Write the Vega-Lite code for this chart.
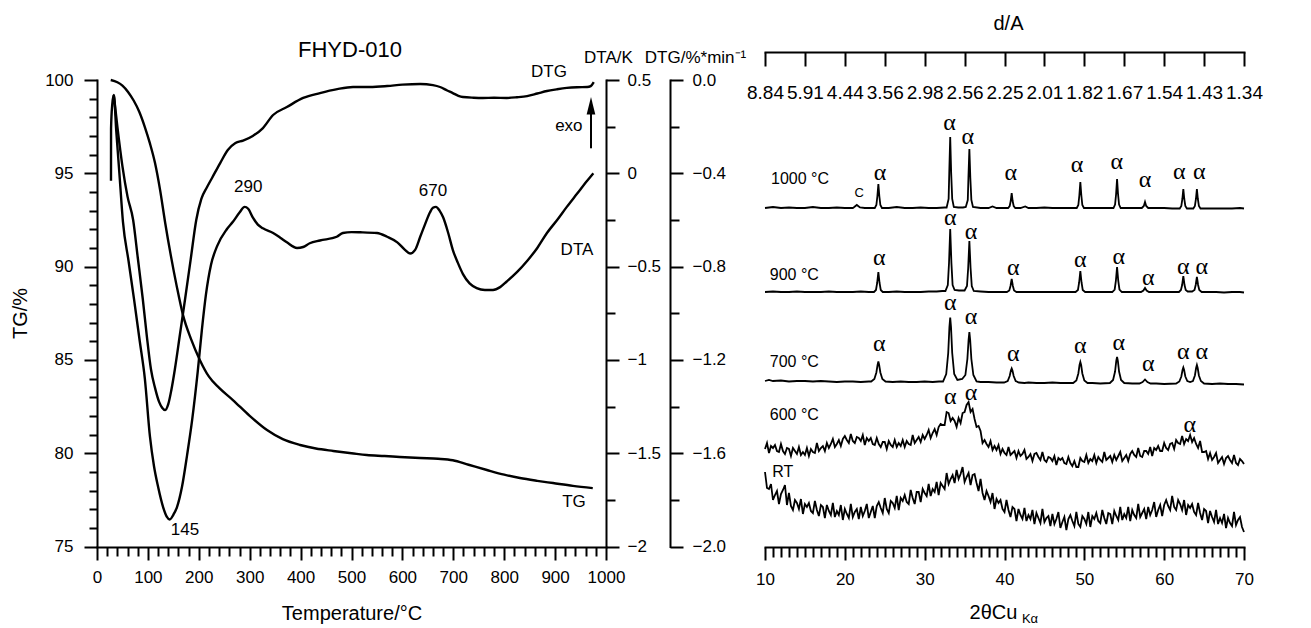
{
"$schema": "https://vega.github.io/schema/vega-lite/v6.json",
"autosize": {"type": "none"},
"width": 1147,
"height": 495,
"padding": {"left": 97, "top": 52, "right": 67, "bottom": 81},
"background": "white",
"config": {
  "view": {"stroke": null},
  "font": "Liberation Sans",
  "text": {"font": "Liberation Sans", "color": "black"},
  "axis": {"domainColor": "black", "tickColor": "black", "labelColor": "black", "titleColor": "black", "domainWidth": 2, "tickWidth": 2, "labelFont": "Liberation Sans", "titleFont": "Liberation Sans", "titleFontWeight": "normal", "grid": false, "labelFlush": false, "labelOverlap": false, "labelBound": false, "domainCap": "square"}
},
"datasets": {
  "tg": [{"T":27,"v":100},{"T":40,"v":99.88},{"T":50,"v":99.7},{"T":61,"v":99.36},{"T":72,"v":98.9},{"T":83,"v":98.3},{"T":94,"v":97.48},{"T":104,"v":96.6},{"T":114,"v":95.55},{"T":124,"v":94.1},{"T":134,"v":92.34},{"T":145,"v":90.6},{"T":157,"v":88.9},{"T":169,"v":87.4},{"T":185,"v":86.1},{"T":202,"v":85.0},{"T":220,"v":84.1},{"T":240,"v":83.5},{"T":267,"v":82.85},{"T":300,"v":82.0},{"T":334,"v":81.24},{"T":365,"v":80.75},{"T":399,"v":80.44},{"T":430,"v":80.25},{"T":464,"v":80.12},{"T":500,"v":80.0},{"T":530,"v":79.9},{"T":565,"v":79.85},{"T":595,"v":79.8},{"T":635,"v":79.74},{"T":670,"v":79.7},{"T":699,"v":79.62},{"T":730,"v":79.38},{"T":766,"v":79.1},{"T":800,"v":78.85},{"T":831,"v":78.67},{"T":865,"v":78.52},{"T":896,"v":78.4},{"T":935,"v":78.25},{"T":974,"v":78.13}],
  "dta": [{"T":27.5,"v":-0.04},{"T":27.6,"v":0.24},{"T":30,"v":0.37},{"T":33,"v":0.42},{"T":38,"v":0.22},{"T":44,"v":0.0},{"T":51,"v":-0.26},{"T":62,"v":-0.47},{"T":73,"v":-0.68},{"T":84,"v":-0.9},{"T":94,"v":-1.1},{"T":104,"v":-1.41},{"T":112,"v":-1.57},{"T":120,"v":-1.68},{"T":130,"v":-1.79},{"T":137,"v":-1.84},{"T":143,"v":-1.855},{"T":150,"v":-1.83},{"T":157,"v":-1.79},{"T":167,"v":-1.68},{"T":177,"v":-1.51},{"T":187,"v":-1.32},{"T":198,"v":-1.06},{"T":206,"v":-0.84},{"T":214,"v":-0.65},{"T":224,"v":-0.49},{"T":236,"v":-0.39},{"T":255,"v":-0.3},{"T":267,"v":-0.26},{"T":280,"v":-0.21},{"T":290,"v":-0.18},{"T":297,"v":-0.19},{"T":306,"v":-0.236},{"T":316,"v":-0.275},{"T":326,"v":-0.295},{"T":346,"v":-0.32},{"T":360,"v":-0.345},{"T":373,"v":-0.37},{"T":393,"v":-0.4},{"T":405,"v":-0.395},{"T":418,"v":-0.375},{"T":438,"v":-0.36},{"T":471,"v":-0.34},{"T":483,"v":-0.32},{"T":500,"v":-0.315},{"T":517,"v":-0.316},{"T":550,"v":-0.32},{"T":570,"v":-0.34},{"T":590,"v":-0.37},{"T":605,"v":-0.41},{"T":615,"v":-0.43},{"T":625,"v":-0.41},{"T":635,"v":-0.34},{"T":645,"v":-0.27},{"T":654,"v":-0.21},{"T":660,"v":-0.185},{"T":666,"v":-0.18},{"T":673,"v":-0.2},{"T":680,"v":-0.236},{"T":690,"v":-0.32},{"T":699,"v":-0.41},{"T":709,"v":-0.48},{"T":719,"v":-0.54},{"T":732,"v":-0.59},{"T":746,"v":-0.615},{"T":762,"v":-0.625},{"T":778,"v":-0.625},{"T":792,"v":-0.61},{"T":805,"v":-0.58},{"T":825,"v":-0.53},{"T":845,"v":-0.47},{"T":865,"v":-0.4},{"T":884,"v":-0.32},{"T":904,"v":-0.25},{"T":923,"v":-0.18},{"T":943,"v":-0.11},{"T":963,"v":-0.04},{"T":975,"v":0.0}],
  "dtg": [{"T":33,"v":-0.064},{"T":40,"v":-0.2},{"T":50,"v":-0.37},{"T":60,"v":-0.5},{"T":71,"v":-0.6},{"T":80,"v":-0.76},{"T":90,"v":-0.94},{"T":98,"v":-1.1},{"T":106,"v":-1.24},{"T":114,"v":-1.32},{"T":122,"v":-1.38},{"T":128,"v":-1.405},{"T":134,"v":-1.415},{"T":140,"v":-1.39},{"T":146,"v":-1.33},{"T":153,"v":-1.24},{"T":163,"v":-1.09},{"T":173,"v":-0.94},{"T":184,"v":-0.77},{"T":195,"v":-0.6},{"T":205,"v":-0.51},{"T":216,"v":-0.46},{"T":226,"v":-0.42},{"T":242,"v":-0.356},{"T":257,"v":-0.3},{"T":272,"v":-0.27},{"T":287,"v":-0.26},{"T":306,"v":-0.24},{"T":326,"v":-0.206},{"T":346,"v":-0.15},{"T":373,"v":-0.116},{"T":405,"v":-0.077},{"T":438,"v":-0.056},{"T":472,"v":-0.039},{"T":503,"v":-0.03},{"T":536,"v":-0.03},{"T":570,"v":-0.026},{"T":600,"v":-0.02},{"T":635,"v":-0.017},{"T":660,"v":-0.022},{"T":674,"v":-0.03},{"T":688,"v":-0.045},{"T":699,"v":-0.056},{"T":710,"v":-0.068},{"T":719,"v":-0.073},{"T":740,"v":-0.076},{"T":758,"v":-0.077},{"T":780,"v":-0.076},{"T":805,"v":-0.077},{"T":825,"v":-0.074},{"T":845,"v":-0.069},{"T":865,"v":-0.058},{"T":884,"v":-0.047},{"T":903,"v":-0.04},{"T":923,"v":-0.034},{"T":943,"v":-0.031},{"T":963,"v":-0.03},{"T":970,"v":-0.026},{"T":976,"v":-0.009}],
  "annL": [{"T":297,"v":-0.075,"txt":"290"},{"T":660,"v":-0.096,"txt":"670"},{"T":173,"v":-1.913,"txt":"145"},{"T":943,"v":-0.413,"txt":"DTA"},{"T":888,"v":0.541,"txt":"DTG"},{"T":937,"v":-1.763,"txt":"TG"},{"T":927,"v":0.252,"txt":"exo"}],
  "cry": [
{"g":"k","t":10,"v":339},{"g":"k","t":11,"v":340},{"g":"k","t":12,"v":339},{"g":"k","t":13,"v":339.5},{"g":"k","t":14,"v":339},{"g":"k","t":15,"v":339},{"g":"k","t":16,"v":340},{"g":"k","t":17,"v":339},{"g":"k","t":18,"v":339},{"g":"k","t":19,"v":339.5},{"g":"k","t":20,"v":339},{"g":"k","t":21,"v":339},{"g":"k","t":21.1,"v":339.5},{"g":"k","t":21.5,"v":342},{"g":"k","t":21.9,"v":339.5},{"g":"k","t":22.5,"v":339},{"g":"k","t":23,"v":339},{"g":"k","t":23.75,"v":339},{"g":"k","t":23.95,"v":342},{"g":"k","t":24.08,"v":351},{"g":"k","t":24.2,"v":363},{"g":"k","t":24.32,"v":351},{"g":"k","t":24.45,"v":342},{"g":"k","t":24.65,"v":339},{"g":"k","t":25.5,"v":339},{"g":"k","t":26.5,"v":340},{"g":"k","t":27.5,"v":339},{"g":"k","t":28.5,"v":339},{"g":"k","t":29.5,"v":339.5},{"g":"k","t":30.5,"v":339},{"g":"k","t":31.5,"v":339},{"g":"k","t":32.5,"v":339.5},{"g":"k","t":32.75,"v":339.5},{"g":"k","t":33.0,"v":348},{"g":"k","t":33.08,"v":374},{"g":"k","t":33.2,"v":410},{"g":"k","t":33.32,"v":374},{"g":"k","t":33.45,"v":348},{"g":"k","t":33.65,"v":340},{"g":"k","t":34.2,"v":339.5},{"g":"k","t":34.8,"v":339.5},{"g":"k","t":35.15,"v":340},{"g":"k","t":35.4,"v":347},{"g":"k","t":35.48,"v":369},{"g":"k","t":35.6,"v":398},{"g":"k","t":35.72,"v":369},{"g":"k","t":35.85,"v":347},{"g":"k","t":36.05,"v":340},{"g":"k","t":37,"v":339},{"g":"k","t":38,"v":339},{"g":"k","t":38.5,"v":340.5},{"g":"k","t":39,"v":339},{"g":"k","t":40,"v":339},{"g":"k","t":40.45,"v":339},{"g":"k","t":40.65,"v":341},{"g":"k","t":40.78,"v":346},{"g":"k","t":40.9,"v":354},{"g":"k","t":41.02,"v":346},{"g":"k","t":41.15,"v":341},{"g":"k","t":41.35,"v":339},{"g":"k","t":42,"v":339},{"g":"k","t":42.6,"v":340.5},{"g":"k","t":43,"v":339},{"g":"k","t":44,"v":339},{"g":"k","t":45,"v":339.5},{"g":"k","t":46,"v":339},{"g":"k","t":47,"v":339},{"g":"k","t":48,"v":339},{"g":"k","t":49.05,"v":339},{"g":"k","t":49.25,"v":342},{"g":"k","t":49.38,"v":352},{"g":"k","t":49.5,"v":365},{"g":"k","t":49.62,"v":352},{"g":"k","t":49.75,"v":342},{"g":"k","t":49.95,"v":339},{"g":"k","t":51,"v":339},{"g":"k","t":52,"v":339},{"g":"k","t":53,"v":339},{"g":"k","t":53.65,"v":339},{"g":"k","t":53.85,"v":342.5},{"g":"k","t":53.98,"v":353},{"g":"k","t":54.1,"v":368},{"g":"k","t":54.22,"v":353},{"g":"k","t":54.35,"v":342.5},{"g":"k","t":54.55,"v":339},{"g":"k","t":55.5,"v":339},{"g":"k","t":56.5,"v":339},{"g":"k","t":57.2,"v":339},{"g":"k","t":57.45,"v":341},{"g":"k","t":57.6,"v":345},{"g":"k","t":57.75,"v":341},{"g":"k","t":58.0,"v":339},{"g":"k","t":59,"v":339},{"g":"k","t":60,"v":339},{"g":"k","t":61,"v":338.5},{"g":"k","t":61.95,"v":338.5},{"g":"k","t":62.15,"v":341},{"g":"k","t":62.28,"v":348},{"g":"k","t":62.4,"v":358},{"g":"k","t":62.52,"v":348},{"g":"k","t":62.65,"v":341},{"g":"k","t":62.85,"v":338.5},{"g":"k","t":63.2,"v":338.5},{"g":"k","t":63.65,"v":338.5},{"g":"k","t":63.85,"v":341},{"g":"k","t":63.98,"v":348},{"g":"k","t":64.1,"v":358},{"g":"k","t":64.22,"v":348},{"g":"k","t":64.35,"v":341},{"g":"k","t":64.55,"v":338.5},{"g":"k","t":65.5,"v":338.5},{"g":"k","t":66.5,"v":338.5},{"g":"k","t":67.5,"v":338.5},{"g":"k","t":68.5,"v":338.5},{"g":"k","t":69.5,"v":339},{"g":"k","t":70,"v":338.5},
{"g":"n","t":10,"v":255},{"g":"n","t":11,"v":255.5},{"g":"n","t":12,"v":255},{"g":"n","t":13,"v":255},{"g":"n","t":14,"v":255.5},{"g":"n","t":15,"v":255},{"g":"n","t":16,"v":255},{"g":"n","t":17,"v":255},{"g":"n","t":18,"v":255.5},{"g":"n","t":19,"v":255},{"g":"n","t":20,"v":255},{"g":"n","t":21,"v":255},{"g":"n","t":22,"v":255.5},{"g":"n","t":23,"v":255},{"g":"n","t":23.65,"v":255},{"g":"n","t":23.9,"v":257},{"g":"n","t":24.05,"v":264},{"g":"n","t":24.2,"v":275},{"g":"n","t":24.35,"v":264},{"g":"n","t":24.5,"v":257},{"g":"n","t":24.75,"v":255},{"g":"n","t":25.5,"v":255},{"g":"n","t":26.5,"v":255.5},{"g":"n","t":27.5,"v":255},{"g":"n","t":28.5,"v":255},{"g":"n","t":29.5,"v":255},{"g":"n","t":30.5,"v":255.5},{"g":"n","t":31.5,"v":255.5},{"g":"n","t":32.2,"v":256},{"g":"n","t":32.6,"v":256},{"g":"n","t":32.9,"v":262},{"g":"n","t":33.05,"v":284},{"g":"n","t":33.2,"v":318},{"g":"n","t":33.35,"v":284},{"g":"n","t":33.5,"v":262},{"g":"n","t":33.75,"v":257},{"g":"n","t":34.3,"v":256.5},{"g":"n","t":35.0,"v":256.5},{"g":"n","t":35.3,"v":261},{"g":"n","t":35.45,"v":279},{"g":"n","t":35.6,"v":306},{"g":"n","t":35.75,"v":279},{"g":"n","t":35.9,"v":261},{"g":"n","t":36.15,"v":256},{"g":"n","t":37,"v":255.5},{"g":"n","t":38,"v":255},{"g":"n","t":39,"v":255},{"g":"n","t":40,"v":255},{"g":"n","t":40.3,"v":255},{"g":"n","t":40.6,"v":256.5},{"g":"n","t":40.75,"v":261},{"g":"n","t":40.9,"v":268},{"g":"n","t":41.05,"v":261},{"g":"n","t":41.2,"v":256.5},{"g":"n","t":41.5,"v":255},{"g":"n","t":42.5,"v":255},{"g":"n","t":43.5,"v":255},{"g":"n","t":44.5,"v":255},{"g":"n","t":45.5,"v":255},{"g":"n","t":46.5,"v":255},{"g":"n","t":47.5,"v":255},{"g":"n","t":48.5,"v":255},{"g":"n","t":48.9,"v":255},{"g":"n","t":49.2,"v":257},{"g":"n","t":49.35,"v":264.5},{"g":"n","t":49.5,"v":276},{"g":"n","t":49.65,"v":264.5},{"g":"n","t":49.8,"v":257},{"g":"n","t":50.1,"v":255},{"g":"n","t":51,"v":255},{"g":"n","t":52,"v":255},{"g":"n","t":53,"v":255},{"g":"n","t":53.5,"v":255},{"g":"n","t":53.8,"v":257.5},{"g":"n","t":53.95,"v":266},{"g":"n","t":54.1,"v":280},{"g":"n","t":54.25,"v":266},{"g":"n","t":54.4,"v":257.5},{"g":"n","t":54.7,"v":255},{"g":"n","t":55.5,"v":255},{"g":"n","t":56.5,"v":255},{"g":"n","t":57.1,"v":255},{"g":"n","t":57.4,"v":256.5},{"g":"n","t":57.6,"v":259},{"g":"n","t":57.8,"v":256.5},{"g":"n","t":58.1,"v":255},{"g":"n","t":59,"v":255},{"g":"n","t":60,"v":255},{"g":"n","t":61,"v":255},{"g":"n","t":61.85,"v":255},{"g":"n","t":62.1,"v":257},{"g":"n","t":62.25,"v":262},{"g":"n","t":62.4,"v":271},{"g":"n","t":62.55,"v":262},{"g":"n","t":62.7,"v":257},{"g":"n","t":62.95,"v":255.5},{"g":"n","t":63.2,"v":255.5},{"g":"n","t":63.5,"v":255.5},{"g":"n","t":63.8,"v":257},{"g":"n","t":63.95,"v":262},{"g":"n","t":64.1,"v":270},{"g":"n","t":64.25,"v":262},{"g":"n","t":64.4,"v":257},{"g":"n","t":64.7,"v":255},{"g":"n","t":65.5,"v":255},{"g":"n","t":66.5,"v":255},{"g":"n","t":67.5,"v":254.5},{"g":"n","t":68.5,"v":255},{"g":"n","t":69.5,"v":255},{"g":"n","t":70,"v":254.5},
{"g":"s","t":10,"v":166},{"g":"s","t":10.5,"v":167},{"g":"s","t":11,"v":166},{"g":"s","t":12,"v":166.5},{"g":"s","t":13,"v":165.5},{"g":"s","t":14,"v":166},{"g":"s","t":15,"v":166},{"g":"s","t":16,"v":165.5},{"g":"s","t":17,"v":166},{"g":"s","t":18,"v":165.5},{"g":"s","t":19,"v":165},{"g":"s","t":20,"v":165.5},{"g":"s","t":21,"v":165.5},{"g":"s","t":22,"v":165},{"g":"s","t":23,"v":165.5},{"g":"s","t":23.3,"v":165.5},{"g":"s","t":23.7,"v":168},{"g":"s","t":23.95,"v":174.5},{"g":"s","t":24.1,"v":182},{"g":"s","t":24.2,"v":185.5},{"g":"s","t":24.3,"v":182},{"g":"s","t":24.45,"v":174.5},{"g":"s","t":24.7,"v":168},{"g":"s","t":25.1,"v":165.5},{"g":"s","t":26,"v":165},{"g":"s","t":27,"v":165.5},{"g":"s","t":28,"v":165},{"g":"s","t":29,"v":165},{"g":"s","t":30,"v":165.5},{"g":"s","t":31,"v":165},{"g":"s","t":31.8,"v":165.5},{"g":"s","t":32.3,"v":165.5},{"g":"s","t":32.7,"v":173},{"g":"s","t":32.95,"v":194},{"g":"s","t":33.1,"v":220},{"g":"s","t":33.2,"v":229.5},{"g":"s","t":33.3,"v":220},{"g":"s","t":33.45,"v":194},{"g":"s","t":33.7,"v":173},{"g":"s","t":34.1,"v":167},{"g":"s","t":34.7,"v":168},{"g":"s","t":35.1,"v":172},{"g":"s","t":35.35,"v":188},{"g":"s","t":35.5,"v":207},{"g":"s","t":35.6,"v":215},{"g":"s","t":35.7,"v":207},{"g":"s","t":35.85,"v":188},{"g":"s","t":36.1,"v":172},{"g":"s","t":36.5,"v":165.5},{"g":"s","t":37,"v":165},{"g":"s","t":38,"v":165},{"g":"s","t":39,"v":164.5},{"g":"s","t":39.95,"v":164.5},{"g":"s","t":40.4,"v":166},{"g":"s","t":40.65,"v":171},{"g":"s","t":40.8,"v":176.5},{"g":"s","t":40.9,"v":178.5},{"g":"s","t":41.0,"v":176.5},{"g":"s","t":41.15,"v":171},{"g":"s","t":41.4,"v":166},{"g":"s","t":41.8,"v":164.5},{"g":"s","t":42.5,"v":164},{"g":"s","t":43,"v":164.5},{"g":"s","t":44,"v":164},{"g":"s","t":45,"v":164},{"g":"s","t":46,"v":164.5},{"g":"s","t":47,"v":164},{"g":"s","t":48,"v":164},{"g":"s","t":48.6,"v":164},{"g":"s","t":49.0,"v":166.5},{"g":"s","t":49.25,"v":173.5},{"g":"s","t":49.4,"v":182},{"g":"s","t":49.5,"v":185},{"g":"s","t":49.6,"v":182},{"g":"s","t":49.75,"v":173.5},{"g":"s","t":50.0,"v":166.5},{"g":"s","t":50.4,"v":164},{"g":"s","t":51,"v":164},{"g":"s","t":52,"v":163.5},{"g":"s","t":53.2,"v":164},{"g":"s","t":53.6,"v":167},{"g":"s","t":53.85,"v":175.5},{"g":"s","t":54.0,"v":186},{"g":"s","t":54.1,"v":190},{"g":"s","t":54.2,"v":186},{"g":"s","t":54.35,"v":175.5},{"g":"s","t":54.6,"v":167},{"g":"s","t":55.0,"v":164},{"g":"s","t":56,"v":163.5},{"g":"s","t":56.9,"v":163.5},{"g":"s","t":57.3,"v":165},{"g":"s","t":57.6,"v":167.5},{"g":"s","t":57.9,"v":165},{"g":"s","t":58.3,"v":163.5},{"g":"s","t":59,"v":163.5},{"g":"s","t":60,"v":163},{"g":"s","t":61.5,"v":163.5},{"g":"s","t":61.9,"v":165.5},{"g":"s","t":62.15,"v":170.5},{"g":"s","t":62.3,"v":177},{"g":"s","t":62.4,"v":179.5},{"g":"s","t":62.5,"v":177},{"g":"s","t":62.65,"v":170.5},{"g":"s","t":62.9,"v":166},{"g":"s","t":63.25,"v":165},{"g":"s","t":63.6,"v":166},{"g":"s","t":63.85,"v":171.5},{"g":"s","t":64.0,"v":179},{"g":"s","t":64.1,"v":182},{"g":"s","t":64.2,"v":179},{"g":"s","t":64.35,"v":171.5},{"g":"s","t":64.6,"v":166},{"g":"s","t":65.0,"v":163.5},{"g":"s","t":66,"v":163},{"g":"s","t":67,"v":163.5},{"g":"s","t":68,"v":163},{"g":"s","t":69,"v":163},{"g":"s","t":70,"v":162.5}
  ],
  "am": [
{"t":10,"r":75,"s":98},{"t":10.25,"r":59,"s":104},{"t":10.5,"r":58,"s":94},{"t":10.75,"r":63,"s":101},{"t":11,"r":47,"s":99},{"t":11.25,"r":52,"s":102},{"t":11.5,"r":56,"s":96},{"t":11.75,"r":43,"s":95},{"t":12,"r":53,"s":103},{"t":12.25,"r":57,"s":96},{"t":12.5,"r":62,"s":93},{"t":12.75,"r":42,"s":99},{"t":13,"r":54,"s":98},{"t":13.25,"r":41,"s":91},{"t":13.5,"r":37,"s":99},{"t":13.75,"r":47,"s":96},{"t":14,"r":44,"s":93},{"t":14.25,"r":38,"s":100},{"t":14.5,"r":48,"s":92},{"t":14.75,"r":33,"s":95},{"t":15,"r":43,"s":92},{"t":15.25,"r":40,"s":99},{"t":15.5,"r":44,"s":91},{"t":15.75,"r":36,"s":98},{"t":16,"r":34,"s":95},{"t":16.25,"r":46,"s":94},{"t":16.5,"r":37,"s":104},{"t":16.75,"r":31,"s":96},{"t":17,"r":42,"s":99},{"t":17.25,"r":40,"s":101},{"t":17.5,"r":29,"s":96},{"t":17.75,"r":42,"s":104},{"t":18,"r":36,"s":99},{"t":18.25,"r":32,"s":103},{"t":18.5,"r":44,"s":108},{"t":18.75,"r":30,"s":100},{"t":19,"r":36,"s":103},{"t":19.25,"r":32,"s":107},{"t":19.5,"r":42,"s":101},{"t":19.75,"r":27,"s":108},{"t":20,"r":38,"s":111},{"t":20.25,"r":33,"s":107},{"t":20.5,"r":29,"s":104},{"t":20.75,"r":43,"s":113},{"t":21,"r":30,"s":106},{"t":21.25,"r":35,"s":104},{"t":21.5,"r":38,"s":110},{"t":21.75,"r":28,"s":109},{"t":22,"r":40,"s":106},{"t":22.25,"r":31,"s":112},{"t":22.5,"r":36,"s":102},{"t":22.75,"r":43,"s":109},{"t":23,"r":29,"s":106},{"t":23.25,"r":35,"s":109},{"t":23.5,"r":41,"s":103},{"t":23.75,"r":29,"s":102},{"t":24,"r":41,"s":109},{"t":24.25,"r":45,"s":103},{"t":24.5,"r":39,"s":100},{"t":24.75,"r":34,"s":105},{"t":25,"r":49,"s":105},{"t":25.25,"r":38,"s":98},{"t":25.5,"r":34,"s":106},{"t":25.75,"r":46,"s":102},{"t":26,"r":44,"s":100},{"t":26.25,"r":39,"s":107},{"t":26.5,"r":51,"s":100},{"t":26.75,"r":37,"s":104},{"t":27,"r":49,"s":101},{"t":27.25,"r":46,"s":107},{"t":27.5,"r":52,"s":100},{"t":27.75,"r":45,"s":106},{"t":28,"r":43,"s":103},{"t":28.25,"r":57,"s":102},{"t":28.5,"r":49,"s":112},{"t":28.75,"r":43,"s":104},{"t":29,"r":55,"s":107},{"t":29.25,"r":55,"s":110},{"t":29.5,"r":45,"s":105},{"t":29.75,"r":58,"s":112},{"t":30,"r":54,"s":108},{"t":30.25,"r":51,"s":112},{"t":30.5,"r":63,"s":117},{"t":30.75,"r":51,"s":109},{"t":31,"r":58,"s":114},{"t":31.25,"r":55,"s":118},{"t":31.5,"r":65,"s":112},{"t":31.75,"r":52,"s":120},{"t":32,"r":64,"s":123},{"t":32.25,"r":61,"s":122},{"t":32.5,"r":58,"s":122},{"t":32.75,"r":74,"s":135},{"t":33,"r":63,"s":134},{"t":33.25,"r":68,"s":126},{"t":33.5,"r":72,"s":129},{"t":33.75,"r":64,"s":126},{"t":34,"r":77,"s":120},{"t":34.25,"r":68,"s":129},{"t":34.5,"r":73,"s":124},{"t":34.75,"r":80,"s":134},{"t":35,"r":65,"s":135},{"t":35.25,"r":70,"s":142},{"t":35.5,"r":74,"s":145},{"t":35.75,"r":62,"s":135},{"t":36,"r":72,"s":138},{"t":36.25,"r":73,"s":128},{"t":36.5,"r":64,"s":120},{"t":36.75,"r":56,"s":121},{"t":37,"r":68,"s":116},{"t":37.25,"r":54,"s":104},{"t":37.5,"r":47,"s":107},{"t":37.75,"r":56,"s":103},{"t":38,"r":51,"s":100},{"t":38.25,"r":45,"s":106},{"t":38.5,"r":54,"s":97},{"t":38.75,"r":38,"s":101},{"t":39,"r":48,"s":97},{"t":39.25,"r":44,"s":102},{"t":39.5,"r":47,"s":93},{"t":39.75,"r":38,"s":98},{"t":40,"r":35,"s":94},{"t":40.25,"r":47,"s":92},{"t":40.5,"r":37,"s":100},{"t":40.75,"r":30,"s":92},{"t":41,"r":40,"s":94},{"t":41.25,"r":38,"s":96},{"t":41.5,"r":26,"s":89},{"t":41.75,"r":38,"s":96},{"t":42,"r":32,"s":91},{"t":42.25,"r":28,"s":93},{"t":42.5,"r":39,"s":97},{"t":42.75,"r":26,"s":88},{"t":43,"r":32,"s":90},{"t":43.25,"r":28,"s":93},{"t":43.5,"r":37,"s":86},{"t":43.75,"r":23,"s":93},{"t":44,"r":34,"s":94},{"t":44.25,"r":29,"s":90},{"t":44.5,"r":24,"s":87},{"t":44.75,"r":38,"s":95},{"t":45,"r":25,"s":87},{"t":45.25,"r":29,"s":85},{"t":45.5,"r":31,"s":90},{"t":45.75,"r":21,"s":89},{"t":46,"r":33,"s":86},{"t":46.25,"r":23,"s":91},{"t":46.5,"r":28,"s":82},{"t":46.75,"r":35,"s":89},{"t":47,"r":19,"s":87},{"t":47.25,"r":25,"s":89},{"t":47.5,"r":30,"s":84},{"t":47.75,"r":17,"s":83},{"t":48,"r":28,"s":90},{"t":48.25,"r":32,"s":84},{"t":48.5,"r":26,"s":81},{"t":48.75,"r":21,"s":86},{"t":49,"r":35,"s":80},{"t":49.25,"r":23,"s":80},{"t":49.5,"r":20,"s":89},{"t":49.75,"r":31,"s":86},{"t":50,"r":28,"s":85},{"t":50.25,"r":23,"s":92},{"t":50.5,"r":35,"s":84},{"t":50.75,"r":20,"s":88},{"t":51,"r":31,"s":86},{"t":51.25,"r":28,"s":92},{"t":51.5,"r":34,"s":84},{"t":51.75,"r":26,"s":90},{"t":52,"r":24,"s":87},{"t":52.25,"r":37,"s":85},{"t":52.5,"r":29,"s":95},{"t":52.75,"r":23,"s":87},{"t":53,"r":34,"s":89},{"t":53.25,"r":33,"s":91},{"t":53.5,"r":23,"s":85},{"t":53.75,"r":36,"s":92},{"t":54,"r":31,"s":87},{"t":54.25,"r":27,"s":91},{"t":54.5,"r":40,"s":95},{"t":54.75,"r":27,"s":86},{"t":55,"r":33,"s":89},{"t":55.25,"r":29,"s":92},{"t":55.5,"r":40,"s":86},{"t":55.75,"r":26,"s":93},{"t":56,"r":37,"s":96},{"t":56.25,"r":32,"s":92},{"t":56.5,"r":29,"s":90},{"t":56.75,"r":43,"s":99},{"t":57,"r":30,"s":91},{"t":57.25,"r":34,"s":90},{"t":57.5,"r":38,"s":96},{"t":57.75,"r":28,"s":96},{"t":58,"r":40,"s":93},{"t":58.25,"r":32,"s":100},{"t":58.5,"r":37,"s":91},{"t":58.75,"r":45,"s":99},{"t":59,"r":30,"s":97},{"t":59.25,"r":37,"s":101},{"t":59.5,"r":42,"s":96},{"t":59.75,"r":31,"s":96},{"t":60,"r":42,"s":104},{"t":60.25,"r":47,"s":99},{"t":60.5,"r":41,"s":97},{"t":60.75,"r":37,"s":103},{"t":61,"r":51,"s":104},{"t":61.25,"r":40,"s":98},{"t":61.5,"r":37,"s":107},{"t":61.75,"r":47,"s":104},{"t":62,"r":43,"s":103},{"t":62.25,"r":37,"s":111},{"t":62.5,"r":47,"s":103},{"t":62.75,"r":32,"s":108},{"t":63,"r":42,"s":106},{"t":63.25,"r":39,"s":112},{"t":63.5,"r":43,"s":105},{"t":63.75,"r":35,"s":109},{"t":64,"r":32,"s":103},{"t":64.25,"r":44,"s":99},{"t":64.5,"r":34,"s":106},{"t":64.75,"r":27,"s":95},{"t":65,"r":38,"s":95},{"t":65.25,"r":36,"s":96},{"t":65.5,"r":24,"s":88},{"t":65.75,"r":36,"s":94},{"t":66,"r":30,"s":87},{"t":66.25,"r":25,"s":90},{"t":66.5,"r":37,"s":94},{"t":66.75,"r":23,"s":84},{"t":67,"r":29,"s":87},{"t":67.25,"r":24,"s":90},{"t":67.5,"r":33,"s":83},{"t":67.75,"r":19,"s":89},{"t":68,"r":29,"s":91},{"t":68.25,"r":24,"s":87},{"t":68.5,"r":21,"s":84},{"t":68.75,"r":35,"s":92},{"t":69,"r":22,"s":84},{"t":69.25,"r":27,"s":82},{"t":69.5,"r":30,"s":88},{"t":69.75,"r":20,"s":86},{"t":70,"r":15,"s":83}
  ],
  "trl": [{"t":10.75,"v":368,"txt":"1000 °C"},{"t":10.6,"v":272,"txt":"900 °C"},{"t":10.6,"v":185,"txt":"700 °C"},{"t":10.6,"v":132,"txt":"600 °C"},{"t":10.9,"v":75,"txt":"RT"}],
  "alpha": [{"t":24.4,"v":374},{"t":33.1,"v":424},{"t":35.4,"v":410},{"t":40.8,"v":374},{"t":49.1,"v":382},{"t":54.05,"v":385},{"t":57.6,"v":367},{"t":61.9,"v":375},{"t":64.4,"v":375},
    {"t":24.3,"v":289},{"t":33.2,"v":329},{"t":35.8,"v":315},{"t":41.1,"v":279},{"t":49.5,"v":287},{"t":54.3,"v":290},{"t":58.0,"v":269},{"t":62.4,"v":280},{"t":64.7,"v":280},
    {"t":24.3,"v":203},{"t":33.2,"v":244},{"t":35.8,"v":230},{"t":41.1,"v":193},{"t":49.5,"v":201},{"t":54.3,"v":204},{"t":58.0,"v":183},{"t":62.4,"v":195},{"t":64.7,"v":195},
    {"t":33.2,"v":150},{"t":35.8,"v":154},{"t":63.2,"v":122}]
},
"resolve": {"scale": {"x": "independent", "y": "independent"}},
"layer": [
  {
    "data": {"name": "tg"},
    "mark": {"type": "line", "color": "black", "strokeWidth": 2.4, "interpolate": "monotone"},
    "encoding": {
      "x": {"field": "T", "type": "quantitative", "scale": {"domain": [0, 1000], "range": [0, 509], "nice": false, "zero": false},
        "axis": {"orient": "bottom", "values": [0,20,40,60,80,100,120,140,160,180,200,220,240,260,280,300,320,340,360,380,400,420,440,460,480,500,520,540,560,580,600,620,640,660,680,700,720,740,760,780,800,820,840,860,880,900,920,940,960,980,1000],
          "format": "d", "labelExpr": "datum.value % 100 === 0 ? datum.label : ''",
          "tickSize": {"condition": {"test": "datum.value % 100 === 0", "value": 13}, "value": 9},
          "labelPadding": 9, "labelFontSize": 17, "title": "Temperature/°C", "titleFontSize": 20, "titleY": 66, "titleBaseline": "middle"}},
      "y": {"field": "v", "type": "quantitative", "scale": {"domain": [75, 100], "range": [494.5, 28], "nice": false, "zero": false},
        "axis": {"orient": "left", "values": [75,76,77,78,79,80,81,82,83,84,85,86,87,88,89,90,91,92,93,94,95,96,97,98,99,100],
          "labelExpr": "datum.value % 5 === 0 ? datum.label : ''",
          "tickSize": {"condition": {"test": "datum.value % 5 === 0", "value": 13}, "value": 8},
          "labelPadding": 11, "labelFontSize": 17, "title": "TG/%", "titleFontSize": 20, "titleX": -77, "titleY": 261, "titleBaseline": "middle", "titleAlign": "center"}}
    }
  },
  {
    "data": {"name": "dta"},
    "mark": {"type": "line", "color": "black", "strokeWidth": 2.4, "interpolate": "monotone"},
    "encoding": {
      "x": {"field": "T", "type": "quantitative", "scale": {"domain": [0, 1000], "range": [0, 509], "nice": false, "zero": false}, "axis": null},
      "y": {"field": "v", "type": "quantitative", "scale": {"domain": [-2, 0.5], "range": [494.5, 28], "nice": false, "zero": false},
        "axis": {"orient": "right", "offset": -638, "values": [-2,-1.75,-1.5,-1.25,-1,-0.75,-0.5,-0.25,0,0.25,0.5],
          "labelExpr": "datum.value % 0.5 === 0 ? format(datum.value, '~g') : ''",
          "tickSize": {"condition": {"test": "datum.value % 0.5 === 0", "value": 13}, "value": 9},
          "labelPadding": 8, "labelFontSize": 17, "title": "DTA/K", "titleFontSize": 17, "titleAngle": 0, "titleX": 2, "titleY": 5, "titleAlign": "center", "titleBaseline": "middle"}}
    }
  },
  {
    "data": {"name": "dtg"},
    "mark": {"type": "line", "color": "black", "strokeWidth": 2.4, "interpolate": "monotone"},
    "encoding": {
      "x": {"field": "T", "type": "quantitative", "scale": {"domain": [0, 1000], "range": [0, 509], "nice": false, "zero": false}, "axis": null},
      "y": {"field": "v", "type": "quantitative", "scale": {"domain": [-2, 0], "range": [494.5, 28], "nice": false, "zero": false},
        "axis": {"orient": "right", "offset": -574, "values": [-2,-1.8,-1.6,-1.4,-1.2,-1,-0.8,-0.6,-0.4,-0.2,0],
          "labelExpr": "abs(round(datum.value*10)) % 4 === 0 ? format(datum.value, '.1f') : ''",
          "tickSize": {"condition": {"test": "abs(round(datum.value*10)) % 4 === 0", "value": 13}, "value": 9},
          "labelPadding": 9, "labelFontSize": 17, "title": "DTG/%*min⁻¹", "titleFontSize": 17, "titleAngle": 0, "titleX": 25, "titleY": 5, "titleAlign": "center", "titleBaseline": "middle"}}
    }
  },
  {
    "data": {"name": "annL"},
    "mark": {"type": "text", "fontSize": 17, "align": "center", "baseline": "middle"},
    "encoding": {
      "x": {"field": "T", "type": "quantitative", "scale": {"domain": [0, 1000], "range": [0, 509], "nice": false, "zero": false}, "axis": null},
      "y": {"field": "v", "type": "quantitative", "scale": {"domain": [-2, 0.5], "range": [494.5, 28], "nice": false, "zero": false}, "axis": null},
      "text": {"field": "txt"}
    }
  },
  {
    "data": {"values": [{"T": 497, "v": 0.659, "txt": "FHYD-010"}]},
    "mark": {"type": "text", "fontSize": 22, "align": "center", "baseline": "middle"},
    "encoding": {
      "x": {"field": "T", "type": "quantitative", "scale": {"domain": [0, 1000], "range": [0, 509], "nice": false, "zero": false}, "axis": null},
      "y": {"field": "v", "type": "quantitative", "scale": {"domain": [-2, 0.5], "range": [494.5, 28], "nice": false, "zero": false}, "axis": null},
      "text": {"field": "txt"}
    }
  },
  {
    "data": {"values": [{"T": 970.5, "a": 0.134, "b": 0.33}]},
    "mark": {"type": "rule", "color": "black", "strokeWidth": 2},
    "encoding": {
      "x": {"field": "T", "type": "quantitative", "scale": {"domain": [0, 1000], "range": [0, 509], "nice": false, "zero": false}, "axis": null},
      "y": {"field": "a", "type": "quantitative", "scale": {"domain": [-2, 0.5], "range": [494.5, 28], "nice": false, "zero": false}, "axis": null},
      "y2": {"field": "b"}
    }
  },
  {
    "data": {"values": [{"T": 970.5, "v": 0.362}]},
    "mark": {"type": "point", "shape": "M0,-1L0.5,1L-0.5,1Z", "filled": true, "color": "black", "opacity": 1, "size": 300},
    "encoding": {
      "x": {"field": "T", "type": "quantitative", "scale": {"domain": [0, 1000], "range": [0, 509], "nice": false, "zero": false}, "axis": null},
      "y": {"field": "v", "type": "quantitative", "scale": {"domain": [-2, 0.5], "range": [494.5, 28], "nice": false, "zero": false}, "axis": null}
    }
  },
  {
    "data": {"name": "cry"},
    "mark": {"type": "line", "color": "black", "strokeWidth": 1.8},
    "encoding": {
      "x": {"field": "t", "type": "quantitative", "scale": {"domain": [10, 70], "range": [668, 1147], "nice": false, "zero": false},
        "axis": {"orient": "bottom", "values": [10,11,12,13,14,15,16,17,18,19,20,21,22,23,24,25,26,27,28,29,30,31,32,33,34,35,36,37,38,39,40,41,42,43,44,45,46,47,48,49,50,51,52,53,54,55,56,57,58,59,60,61,62,63,64,65,66,67,68,69,70],
          "labelExpr": "datum.value % 10 === 0 ? datum.label : ''",
          "tickSize": {"condition": {"test": "datum.value % 10 === 0", "value": 13}, "value": 10},
          "labelPadding": 11, "labelFontSize": 17, "title": "2θCu", "titleFontSize": 20, "titleX": 896, "titleY": 65, "titleAlign": "center", "titleBaseline": "middle"}},
      "y": {"field": "v", "type": "quantitative", "scale": {"domain": [0, 495], "range": [495, 0], "nice": false, "zero": false}, "axis": null},
      "detail": {"field": "g"}
    }
  },
  {
    "data": {"name": "am"},
    "mark": {"type": "line", "color": "black", "strokeWidth": 1.8},
    "encoding": {
      "x": {"field": "t", "type": "quantitative", "scale": {"domain": [10, 70], "range": [668, 1147], "nice": false, "zero": false},
        "axis": {"orient": "bottom", "offset": -495, "values": [10,15,20,25,30,35,40,45,50,55,60,65,70],
          "labelExpr": "['8.84','5.91','4.44','3.56','2.98','2.56','2.25','2.01','1.82','1.67','1.54','1.43','1.34'][round((datum.value-10)/5)]",
          "tickSize": 14, "labelPadding": 17, "labelFontSize": 19, "title": "d/A", "titleFontSize": 20, "titleX": 911, "titleY": -29, "titleAlign": "center", "titleBaseline": "middle"}},
      "y": {"field": "r", "type": "quantitative", "scale": {"domain": [0, 495], "range": [495, 0], "nice": false, "zero": false}, "axis": null}
    }
  },
  {
    "data": {"name": "am"},
    "mark": {"type": "line", "color": "black", "strokeWidth": 1.8},
    "encoding": {
      "x": {"field": "t", "type": "quantitative", "scale": {"domain": [10, 70], "range": [668, 1147], "nice": false, "zero": false}, "axis": null},
      "y": {"field": "s", "type": "quantitative", "scale": {"domain": [0, 495], "range": [495, 0], "nice": false, "zero": false}, "axis": null}
    }
  },
  {
    "data": {"name": "trl"},
    "mark": {"type": "text", "fontSize": 16, "align": "left", "baseline": "middle"},
    "encoding": {
      "x": {"field": "t", "type": "quantitative", "scale": {"domain": [10, 70], "range": [668, 1147], "nice": false, "zero": false}, "axis": null},
      "y": {"field": "v", "type": "quantitative", "scale": {"domain": [0, 495], "range": [495, 0], "nice": false, "zero": false}, "axis": null},
      "text": {"field": "txt"}
    }
  },
  {
    "data": {"name": "alpha"},
    "mark": {"type": "text", "fontSize": 24, "font": "Liberation Serif", "align": "center", "baseline": "middle", "text": "α"},
    "encoding": {
      "x": {"field": "t", "type": "quantitative", "scale": {"domain": [10, 70], "range": [668, 1147], "nice": false, "zero": false}, "axis": null},
      "y": {"field": "v", "type": "quantitative", "scale": {"domain": [0, 495], "range": [495, 0], "nice": false, "zero": false}, "axis": null}
    }
  },
  {
    "data": {"values": [{"t": 21.8, "v": 354, "txt": "C"}]},
    "mark": {"type": "text", "fontSize": 13, "align": "center", "baseline": "middle"},
    "encoding": {
      "x": {"field": "t", "type": "quantitative", "scale": {"domain": [10, 70], "range": [668, 1147], "nice": false, "zero": false}, "axis": null},
      "y": {"field": "v", "type": "quantitative", "scale": {"domain": [0, 495], "range": [495, 0], "nice": false, "zero": false}, "axis": null},
      "text": {"field": "txt"}
    }
  },
  {
    "data": {"values": [{"t": 43.2, "v": -72, "txt": "Kα"}]},
    "mark": {"type": "text", "fontSize": 13, "align": "center", "baseline": "middle"},
    "encoding": {
      "x": {"field": "t", "type": "quantitative", "scale": {"domain": [10, 70], "range": [668, 1147], "nice": false, "zero": false}, "axis": null},
      "y": {"field": "v", "type": "quantitative", "scale": {"domain": [0, 495], "range": [495, 0], "nice": false, "zero": false}, "axis": null},
      "text": {"field": "txt"}
    }
  }
]
}
